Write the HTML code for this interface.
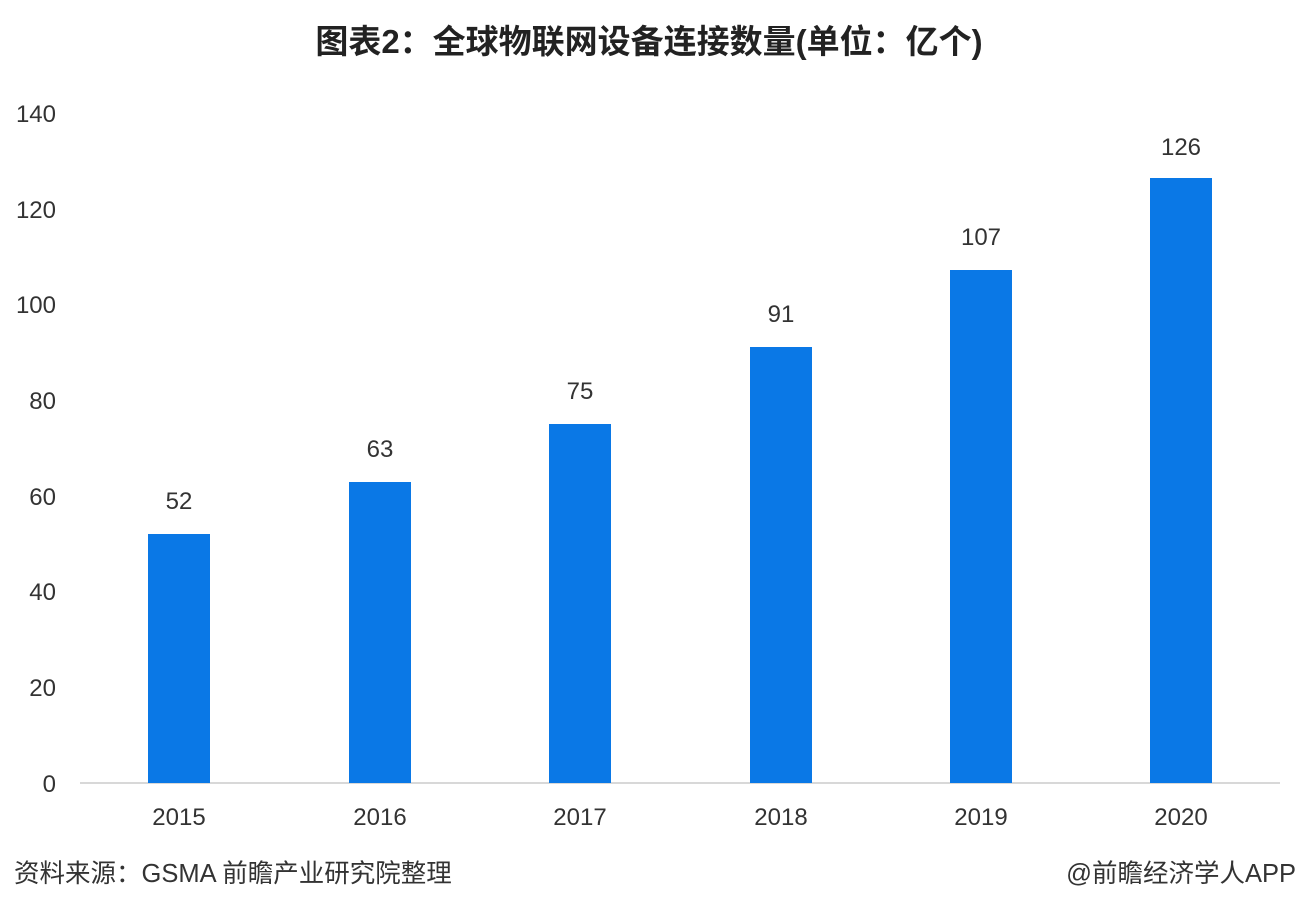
<!DOCTYPE html>
<html><head><meta charset="utf-8"><style>
body{margin:0;width:1298px;height:914px;background:#fff;overflow:hidden;font-family:"Liberation Sans","Noto Sans CJK SC",sans-serif;}
</style></head><body>
<svg width="1298" height="914" xmlns="http://www.w3.org/2000/svg" font-family="Liberation Sans, Noto Sans CJK SC, sans-serif">
<text x="649" y="53" text-anchor="middle" font-size="33" font-weight="bold" fill="#222">图表2：全球物联网设备连接数量(单位：亿个)</text>
<g font-size="24" fill="#333" text-anchor="end">
<text x="56" y="792">0</text>
<text x="56" y="696">20</text>
<text x="56" y="600">40</text>
<text x="56" y="505">60</text>
<text x="56" y="409">80</text>
<text x="56" y="313">100</text>
<text x="56" y="218">120</text>
<text x="56" y="122">140</text>
</g>
<line x1="80" y1="783" x2="1280" y2="783" stroke="#ccc" stroke-width="1.5"/>
<g fill="#0a78e6">
<rect x="148" y="534" width="62" height="249"/>
<rect x="349" y="482" width="62" height="301"/>
<rect x="549" y="424" width="62" height="359"/>
<rect x="750" y="347" width="62" height="436"/>
<rect x="950" y="270" width="62" height="513"/>
<rect x="1150" y="178" width="62" height="605"/>
</g>
<g font-size="24" fill="#333" text-anchor="middle">
<text x="179" y="509">52</text>
<text x="380" y="457">63</text>
<text x="580" y="399">75</text>
<text x="781" y="322">91</text>
<text x="981" y="245">107</text>
<text x="1181" y="155">126</text>
<text x="179" y="825">2015</text>
<text x="380" y="825">2016</text>
<text x="580" y="825">2017</text>
<text x="781" y="825">2018</text>
<text x="981" y="825">2019</text>
<text x="1181" y="825">2020</text>
</g>
<text x="14" y="882" font-size="25.5" fill="#333">资料来源：GSMA 前瞻产业研究院整理</text>
<text x="1296" y="882" font-size="25.5" fill="#333" text-anchor="end">@前瞻经济学人APP</text>
</svg>
</body></html>
